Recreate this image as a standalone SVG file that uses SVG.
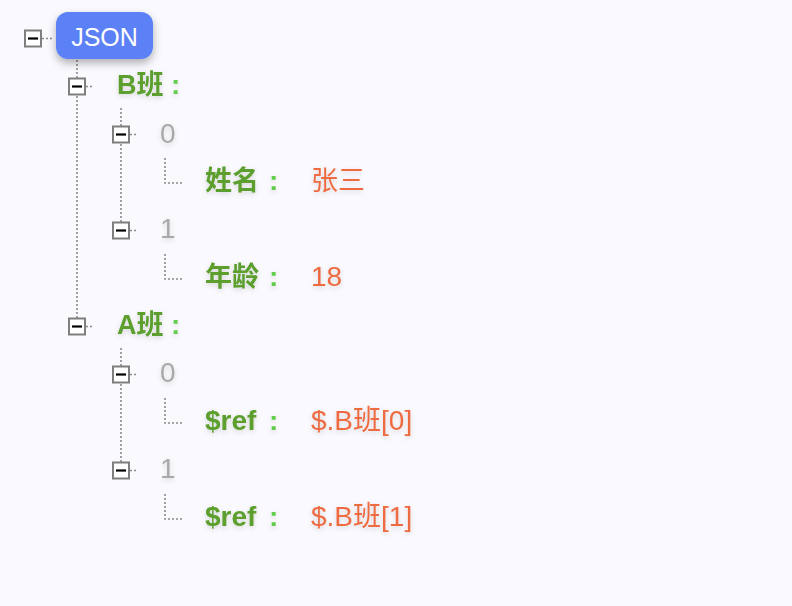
<svg xmlns="http://www.w3.org/2000/svg" width="792" height="606" viewBox="0 0 792 606">
<defs>
<filter id="boxShadow" x="-20%" y="-20%" width="140%" height="160%">
<feDropShadow dx="0" dy="4" stdDeviation="4" flood-color="#000" flood-opacity="0.3"/>
</filter>
<filter id="txtShadow" x="-20%" y="-40%" width="140%" height="180%">
<feDropShadow dx="0" dy="2" stdDeviation="2.5" flood-color="#000" flood-opacity="0.14"/>
</filter>
<g id="tog"><rect x="-8" y="-8" width="16" height="16" fill="#fff" stroke="#7f7f7f" stroke-width="2"/><line x1="-5" y1="0" x2="5" y2="0" stroke="#000" stroke-width="2.2"/></g>
</defs>
<style>
.dot{stroke:#8a8a8a;stroke-width:1.6;stroke-dasharray:2 2;fill:none}
text{font-family:"Liberation Sans","Noto Sans CJK SC",sans-serif;font-size:27px}
.k{fill:#5c9f2d;font-weight:bold;filter:url(#txtShadow)}
.c{fill:#62cc4e;font-size:28px}
.v{fill:#ee6b40;filter:url(#txtShadow)}
.n{fill:#a9a9a9;filter:url(#txtShadow);font-size:28px}
.l{font-size:28px}
</style>
<rect width="792" height="606" fill="#f9f9fe"/>
<g id="connectors">
<line class="dot" x1="42" y1="38.5" x2="54" y2="38.5"/>
<line class="dot" x1="77" y1="60" x2="77" y2="318"/>
<line class="dot" x1="86" y1="86.5" x2="94" y2="86.5"/>
<line class="dot" x1="86" y1="326.5" x2="94" y2="326.5"/>
<line class="dot" x1="121" y1="108" x2="121" y2="222"/>
<line class="dot" x1="121" y1="348" x2="121" y2="462"/>
<line class="dot" x1="130" y1="134.5" x2="138" y2="134.5"/>
<line class="dot" x1="130" y1="230.5" x2="138" y2="230.5"/>
<line class="dot" x1="130" y1="374.5" x2="138" y2="374.5"/>
<line class="dot" x1="130" y1="470.5" x2="138" y2="470.5"/>
<polyline class="dot" points="165,158 165,183 183,183"/>
<polyline class="dot" points="165,254 165,279 183,279"/>
<polyline class="dot" points="165,398 165,423 183,423"/>
<polyline class="dot" points="165,494 165,519 183,519"/>
</g>
<g id="root">
<use href="#tog" x="33" y="38.5"/>
<rect x="56" y="12" width="97" height="47" rx="12" fill="#5b80f6" filter="url(#boxShadow)"/>
<text x="104.5" y="46" text-anchor="middle" fill="#fff" style="font-size:25px">JSON</text>
</g>
<g id="classB">
<use href="#tog" x="77" y="86.5"/>
<text class="k" x="117" y="94">B班<tspan class="c" x="171">:</tspan></text>
</g>
<g id="b0">
<use href="#tog" x="121" y="134.5"/>
<text class="n" x="160" y="143">0</text>
</g>
<g id="b0name">
<text class="k" x="205" y="190">姓名<tspan class="c" x="269">:</tspan></text>
<text class="v" x="311" y="190">张三</text>
</g>
<g id="b1">
<use href="#tog" x="121" y="230.5"/>
<text class="n" x="160" y="238">1</text>
</g>
<g id="b1age">
<text class="k" x="205" y="286">年龄<tspan class="c" x="269">:</tspan></text>
<text class="v l" x="311" y="286">18</text>
</g>
<g id="classA">
<use href="#tog" x="77" y="326.5"/>
<text class="k" x="117" y="334">A班<tspan class="c" x="171">:</tspan></text>
</g>
<g id="a0">
<use href="#tog" x="121" y="374.5"/>
<text class="n" x="160" y="382">0</text>
</g>
<g id="a0ref">
<text class="k l" x="205" y="430">$ref<tspan class="c" x="269">:</tspan></text>
<text class="v l" x="311" y="430">$.B班[0]</text>
</g>
<g id="a1">
<use href="#tog" x="121" y="470.5"/>
<text class="n" x="160" y="478">1</text>
</g>
<g id="a1ref">
<text class="k l" x="205" y="526">$ref<tspan class="c" x="269">:</tspan></text>
<text class="v l" x="311" y="526">$.B班[1]</text>
</g>
</svg>
